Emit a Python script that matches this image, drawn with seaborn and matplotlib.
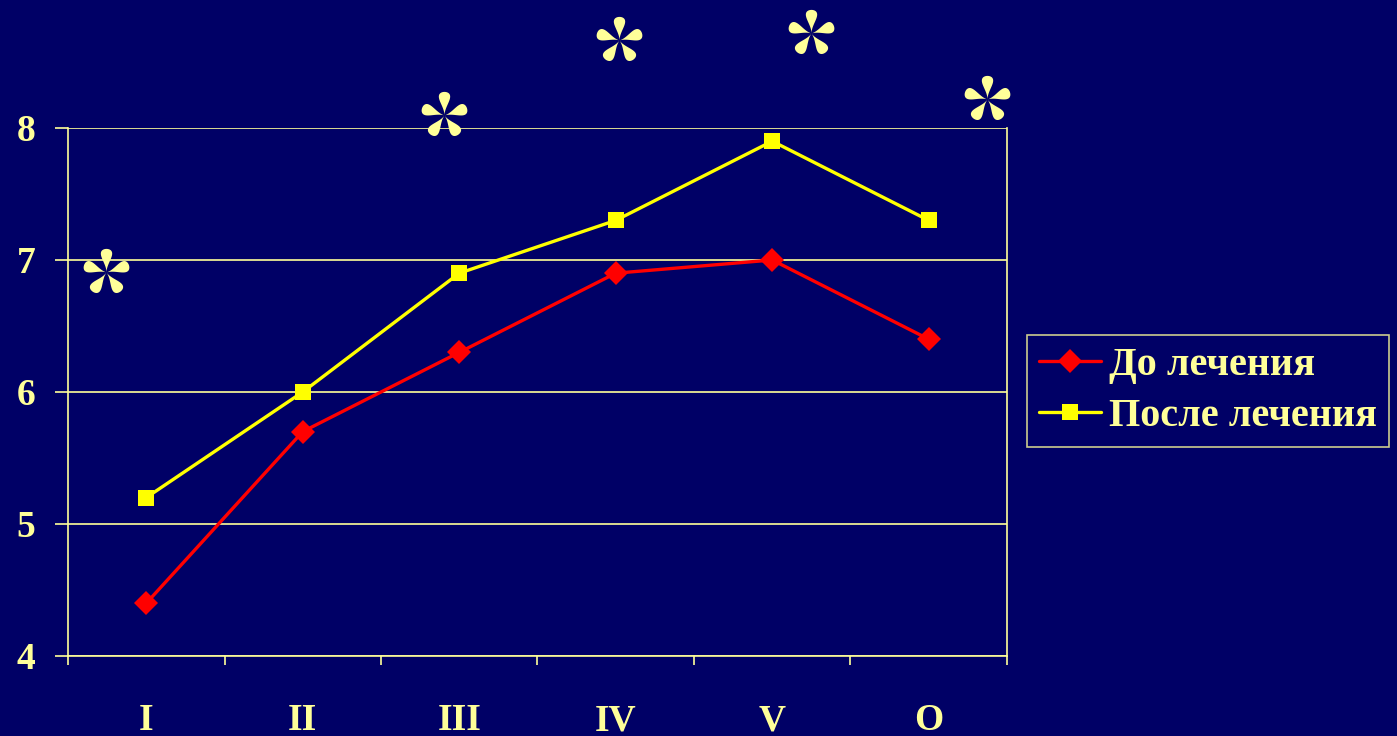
import numpy as np
import pandas as pd
import matplotlib
matplotlib.use("Agg")
import matplotlib.pyplot as plt
from matplotlib.path import Path
import seaborn as sns

categories = ["I", "II", "III", "IV", "V", "O"]
before = [4.4, 5.7, 6.3, 6.9, 7.0, 6.4]
after = [5.2, 6.0, 6.9, 7.3, 7.9, 7.3]
series_names = ["До лечения", "После лечения"]
y_ticks = [4, 5, 6, 7, 8]
# significance marks: (category position, height)
star_x = [-0.26, 1.90, 3.02, 4.25, 5.37]
star_y = [6.91, 8.10, 8.67, 8.72, 8.22]

BG = "#000066"
FG = "#FFFF99"


def petal_star(n_petals=5, sharp=3, width=0.42, steps=60):
    """Five-petal teardrop asterisk as a marker path."""
    t = np.linspace(0, 2 * np.pi, steps)
    u = (1 - np.cos(t)) / 2
    v = np.sin(t) * np.sin(t / 2) ** sharp * width
    verts, codes = [], []
    for k in range(n_petals):
        a = np.pi / 2 + k * 2 * np.pi / n_petals
        ca, sa = np.cos(a), np.sin(a)
        xs = u * ca - v * sa
        ys = u * sa + v * ca
        pts = list(zip(xs, ys))
        verts += pts + [pts[0]]
        codes += [Path.MOVETO] + [Path.LINETO] * (len(pts) - 1) + [Path.CLOSEPOLY]
    return Path(verts, codes)


sns.set_theme(style="white")
plt.rcParams["font.family"] = ["Liberation Serif", "DejaVu Serif"]
plt.rcParams["font.weight"] = "bold"

df = pd.DataFrame({
    "cat": categories * 2,
    "value": before + after,
    "series": [series_names[0]] * len(categories) + [series_names[1]] * len(categories),
})

fig = plt.figure(figsize=(13.97, 7.36), dpi=100, facecolor=BG)
ax = fig.add_axes([0.0487, 0.1087, 0.6721, 0.7174], facecolor=BG)

sns.lineplot(
    data=df, x="cat", y="value", hue="series", style="series",
    palette={series_names[0]: "#FF0000", series_names[1]: "#FFFF00"},
    markers={series_names[0]: "D", series_names[1]: "s"},
    dashes=False, markersize=12, linewidth=2.4, markeredgewidth=0,
    sort=False, ax=ax, legend=True,
)

ax.set_xlim(-0.5, len(categories) - 0.5)
ax.set_ylim(4, 8)
ax.set_yticks(y_ticks)
ax.set_yticklabels([str(t) for t in y_ticks])
ax.set_xticks(range(len(categories)))
ax.set_xticklabels(categories)
ax.set_xticks(np.arange(-0.5, len(categories), 1.0), minor=True)
ax.set_xlabel("")
ax.set_ylabel("")

ax.tick_params(axis="x", which="both", bottom=True)
ax.tick_params(axis="y", which="both", left=True)
ax.tick_params(axis="x", which="major", length=0, pad=34, labelsize=27, labelcolor=FG)
ax.tick_params(axis="x", which="minor", length=6.5, width=1.2, color=FG, direction="out")
ax.tick_params(axis="y", which="major", length=9.5, width=1.2, color=FG, pad=14,
               labelsize=27, labelcolor=FG, direction="out")
for lbl in ax.get_xticklabels() + ax.get_yticklabels():
    lbl.set_fontweight("bold")

ax.grid(axis="y", color=FG, linewidth=1.2)
ax.set_axisbelow(True)
for side in ["left", "bottom", "right"]:
    ax.spines[side].set_visible(True)
    ax.spines[side].set_color(FG)
    ax.spines[side].set_linewidth(1.2)
ax.spines["top"].set_visible(False)

# significance asterisks
ax.plot(star_x, star_y, linestyle="none", marker=petal_star(), markersize=34,
        color=FG, markeredgewidth=0, clip_on=False, zorder=5)

handles, labels = ax.get_legend_handles_labels()
ax.legend_.remove()
leg = fig.legend(handles, labels, loc="center left", bbox_to_anchor=(0.735, 0.469),
                 frameon=True, facecolor=BG, edgecolor=FG, fontsize=29,
                 handlelength=1.55, handletextpad=0.2, borderpad=0.3,
                 labelspacing=0.33, fancybox=False, borderaxespad=0)
leg.get_frame().set_linewidth(1.2)
for t in leg.get_texts():
    t.set_color(FG)
    t.set_fontweight("bold")

fig.savefig("out.png", dpi=100, facecolor=BG)
